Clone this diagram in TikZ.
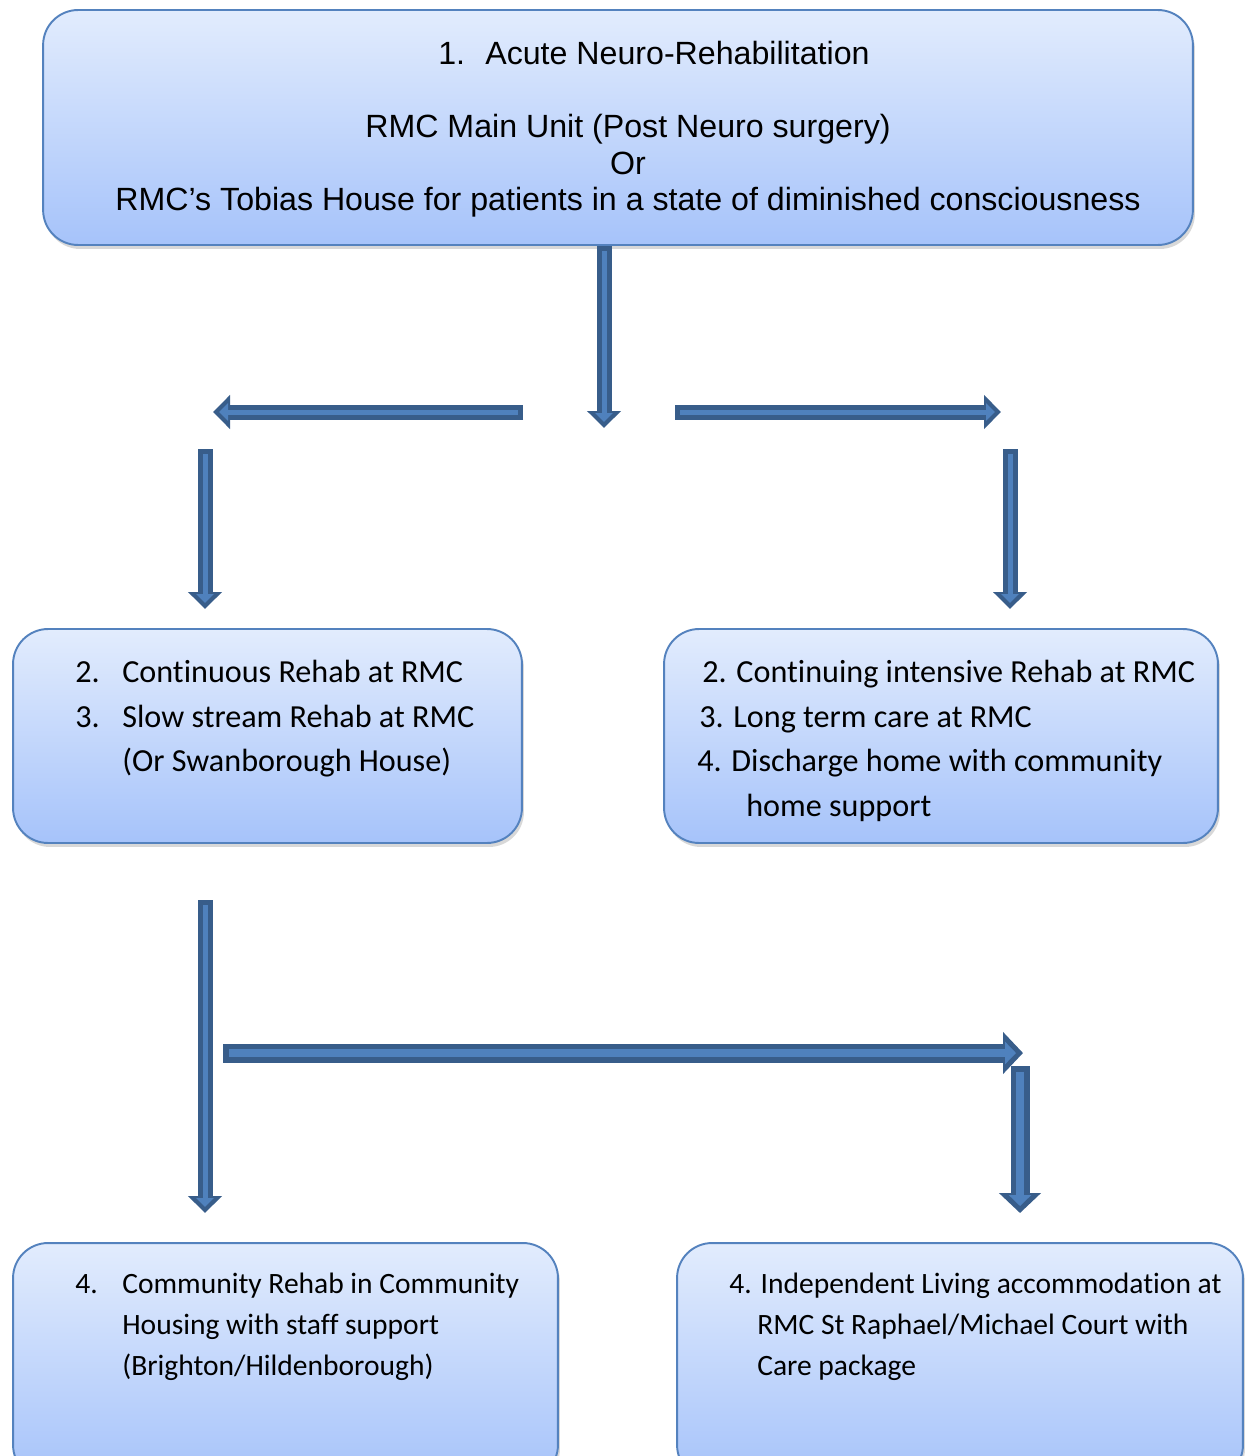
\documentclass[tikz,border=0pt]{standalone}
\usepackage{fontspec}
\setmainfont{Carlito}[Ligatures=NoCommon]
\newfontfamily\arialfont{Liberation Sans}
\usetikzlibrary{arrows.meta,shadows}
\definecolor{stagetop}{RGB}{226,236,253}
\definecolor{stagebottom}{RGB}{166,195,250}
\definecolor{stageline}{RGB}{84,130,190}
\definecolor{flowfill}{RGB}{79,129,189}
\definecolor{flowline}{RGB}{56,93,138}
\tikzset{
  stage/.style={draw=stageline, line width=1.1pt, rounded corners=0.7cm,
    top color=stagetop, bottom color=stagebottom,
    drop shadow={shadow xshift=0.04cm, shadow yshift=-0.08cm, opacity=0.3},
    inner sep=0pt},
  stagetext/.style={inner sep=0pt, align=left, font=\fontsize{18.3}{25.4}\selectfont},
  flow/.style={draw=flowline, line width=0.3cm, -{Triangle[width=0.66cm,length=0.34cm]},
    postaction={draw=flowfill, line width=0.1cm, shorten <=0.1cm, shorten >=0.12cm,
      -{Triangle[width=0.34cm,length=0.18cm]}}},
  wideflow/.style={draw=flowline, line width=0.38cm, -{Triangle[width=0.82cm,length=0.4cm]},
    postaction={draw=flowfill, line width=0.16cm, shorten <=0.11cm, shorten >=0.14cm,
      -{Triangle[width=0.44cm,length=0.22cm]}}}
}
\begin{document}
\begin{tikzpicture}[x=0.02cm, y=-0.02cm]
\useasboundingbox[fill=white] (0,0) rectangle (1245,1456);
\clip (0,0) rectangle (1245,1456);
\node[stage, minimum width=23cm, minimum height=4.7cm] (acute) at (618,127.5) {};
\node[stage, minimum width=10.18cm, minimum height=4.28cm] (slow) at (267.5,736) {};
\node[stage, minimum width=11.08cm, minimum height=4.28cm] (longterm) at (941,736) {};
\node[stage, minimum width=10.9cm, minimum height=4.74cm] (housing) at (285.5,1361.5) {};
\node[stage, minimum width=11.32cm, minimum height=4.74cm] (living) at (960,1361.5) {};

\node[anchor=base west, inner sep=0pt, font=\arialfont\fontsize{18.3}{20.8}\selectfont] (acutetitle) at (438,65) {\makebox[0.94cm][l]{1.}Acute Neuro-Rehabilitation};
\node[anchor=north, inner sep=0pt, align=center, font=\arialfont\fontsize{18.3}{20.8}\selectfont] (acuteunits) at (628,114) {RMC Main Unit (Post Neuro surgery)\\Or\\RMC’s Tobias House for patients in a state of diminished consciousness};
\node[stagetext, anchor=north west] (slowtext) at (75,660) {\makebox[0.94cm][l]{2.}Continuous Rehab at RMC\\\makebox[0.94cm][l]{3.}Slow stream Rehab at RMC\\\hspace*{0.94cm}(Or Swanborough House)};
\node[stagetext, anchor=north west] (longtext) at (697,660) {\hspace*{0.1cm}2. Continuing intensive Rehab at RMC\\\hspace*{0.04cm}3. Long term care at RMC\\4. Discharge home with community\\\hspace*{0.98cm}home support};
\node[stagetext, anchor=north west, font=\fontsize{16.8}{23.2}\selectfont] (housingtext) at (75,1273) {\makebox[0.94cm][l]{4.}Community Rehab in Community\\\hspace*{0.94cm}Housing with staff support\\\hspace*{0.94cm}(Brighton/Hildenborough)};
\node[stagetext, anchor=north west, font=\fontsize{16.8}{23.2}\selectfont] (livingtext) at (729,1273) {4. Independent Living accommodation at\\\hspace*{0.56cm}RMC St Raphael/Michael Court with\\\hspace*{0.56cm}Care package};

\coordinate (split) at (604,428);
\coordinate (leftfrom) at (523,412);
\coordinate (leftto) at (213,412);
\coordinate (rightfrom) at (675,412);
\coordinate (rightto) at (1001,412);
\coordinate (slowfrom) at (205,449);
\coordinate (slowto) at (205,609);
\coordinate (longfrom) at (1010,449);
\coordinate (longto) at (1010,609);
\coordinate (housingfrom) at (205,900);
\coordinate (housingto) at (205,1213);
\coordinate (acrossfrom) at (223,1053);
\coordinate (acrossto) at (1023,1053);
\coordinate (livingfrom) at (1020,1066);
\coordinate (livingto) at (1020,1213);

\draw[flow] (acute.south -| split) -- (split);
\draw[flow] (leftfrom) -- (leftto);
\draw[flow] (rightfrom) -- (rightto);
\draw[flow] (slowfrom) -- (slowto);
\draw[flow] (longfrom) -- (longto);
\draw[flow] (housingfrom) -- (housingto);
\draw[wideflow] (acrossfrom) -- (acrossto);
\draw[wideflow] (livingfrom) -- (livingto);
\end{tikzpicture}
\end{document}
